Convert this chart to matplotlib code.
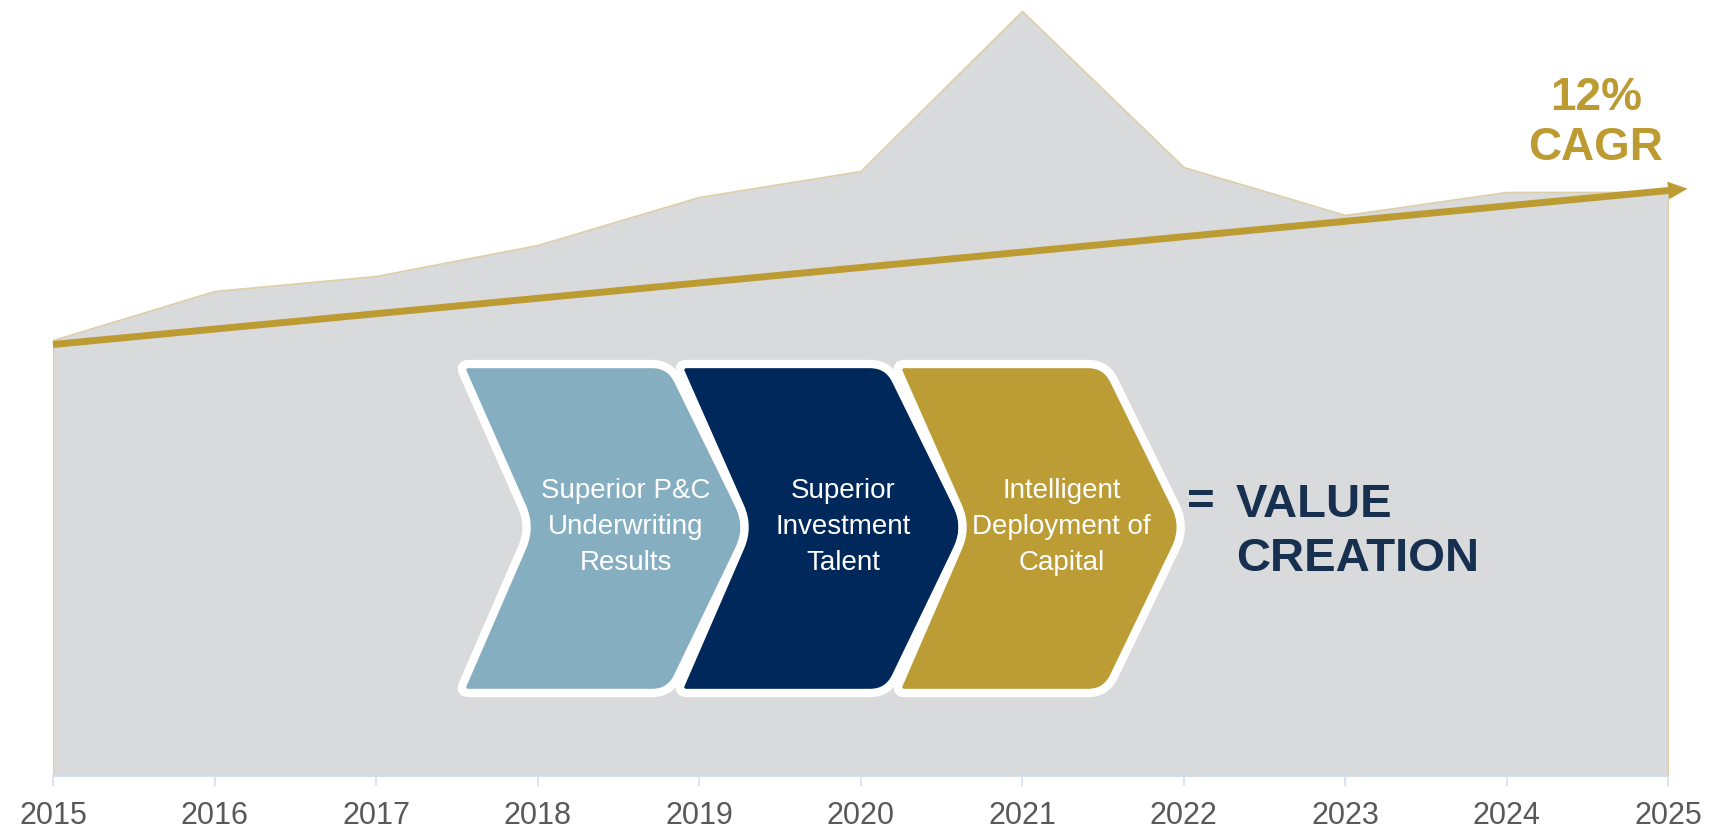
import numpy as np
import matplotlib
matplotlib.use("Agg")
import matplotlib.pyplot as plt
from matplotlib.path import Path
from matplotlib.patches import PathPatch

plt.rcParams['font.family'] = ['Liberation Sans', 'DejaVu Sans']

# data
years = [2015, 2016, 2017, 2018, 2019, 2020, 2021, 2022, 2023, 2024, 2025]
values = [436, 485, 500, 531, 579, 605, 765, 609, 561, 584, 584]
cagr_years = [2015, 2025.12]
cagr_values = [431.5, 587.3]
cagr_label = "12%\nCAGR"
steps = ["Superior P&C\nUnderwriting\nResults",
         "Superior\nInvestment\nTalent",
         "Intelligent\nDeployment of\nCapital"]
step_colors = ['#86AEC1', '#00285A', '#BC9D35']
result_label = "VALUE\nCREATION"

GOLD = '#BC9B32'
NAVY_TXT = '#17304F'
W, H = 1721, 830

fig = plt.figure(figsize=(W / 100, H / 100), dpi=100)
ax = fig.add_axes([53 / W, (H - 776) / H, 1615 / W, 776 / H])

ax.fill_between(years, values, 0, facecolor='#D9DADC', edgecolor='#DDCFA8',
                lw=1.2, zorder=1)
ax.set_xlim(years[0], years[-1])
ax.set_ylim(0, 776)

# CAGR arrow: thick shaft + small head
p0 = ax.transData.transform((cagr_years[0], cagr_values[0]))
p1 = ax.transData.transform((cagr_years[1], cagr_values[1]))
u = (p1 - p0) / np.hypot(*(p1 - p0))
shaft_end = ax.transData.inverted().transform(p1 - u * 16)
ax.plot([cagr_years[0], shaft_end[0]], [cagr_values[0], shaft_end[1]],
        color=GOLD, lw=5, solid_capstyle='butt', zorder=3, clip_on=False)
ax.annotate('', xy=(cagr_years[1], cagr_values[1]),
            xytext=(cagr_years[0], cagr_values[0]),
            arrowprops=dict(arrowstyle='-|>,head_length=1.3,head_width=0.6',
                            mutation_scale=10, color=GOLD, lw=0.5,
                            shrinkA=0, shrinkB=0),
            zorder=3, annotation_clip=False)

for s in ['top', 'left', 'right']:
    ax.spines[s].set_visible(False)
ax.spines['bottom'].set_color('#D3E0EF')
ax.spines['bottom'].set_linewidth(1.5)
ax.set_yticks([])
ax.set_xticks(years)
ax.set_xticklabels([str(y) for y in years])
ax.tick_params(axis='x', direction='out', length=7, width=1.2, color='#D3E0EF',
               labelsize=22, labelcolor='#595959', pad=11)
ax.patch.set_visible(False)

# overlay in pixel coordinates for the diagram
ov = fig.add_axes([0, 0, 1, 1])
ov.set_xlim(0, W)
ov.set_ylim(H, 0)
ov.axis('off')
ov.patch.set_visible(False)


def rounded_path(pts, radii):
    verts, codes = [], []
    n = len(pts)
    for i in range(n):
        r = radii[i]
        a0 = np.array(pts[i - 1], float)
        a1 = np.array(pts[i], float)
        a2 = np.array(pts[(i + 1) % n], float)
        d1 = (a0 - a1) / np.hypot(*(a0 - a1))
        d2 = (a2 - a1) / np.hypot(*(a2 - a1))
        verts.append(a1 + d1 * r)
        codes.append(Path.MOVETO if i == 0 else Path.LINETO)
        verts += [a1, a1 + d2 * r]
        codes += [Path.CURVE3, Path.CURVE3]
    verts.append(verts[0])
    codes.append(Path.CLOSEPOLY)
    return Path(verts, codes)


left, top, bottom, mid = 459, 364, 693, 527
width, tip, notch, step = 211, 80, 72, 218
radii = [10, 18, 24, 18, 10, 22]
for i, (label, col) in enumerate(zip(steps, step_colors)):
    x0 = left + i * step
    pts = [(x0, top), (x0 + width, top), (x0 + width + tip, mid),
           (x0 + width, bottom), (x0, bottom), (x0 + notch, mid)]
    ov.add_patch(PathPatch(rounded_path(pts, radii), facecolor=col,
                           edgecolor='white', lw=6, joinstyle='round'))
    ov.text(x0 + width / 2 + 61, mid, label, color='white', fontsize=20,
            ha='center', va='center', linespacing=1.5)

ov.text(1201, 503, "=", color=NAVY_TXT, fontsize=34, fontweight='bold',
        ha='center', va='center')
ov.text(1236, 532, result_label, color=NAVY_TXT, fontsize=34,
        fontweight='bold', ha='left', va='center', linespacing=1.27)
ov.text(1596, 123, cagr_label, color=GOLD, fontsize=33, fontweight='bold',
        ha='center', va='center', linespacing=1.2)

fig.savefig("out.png", dpi=100)
